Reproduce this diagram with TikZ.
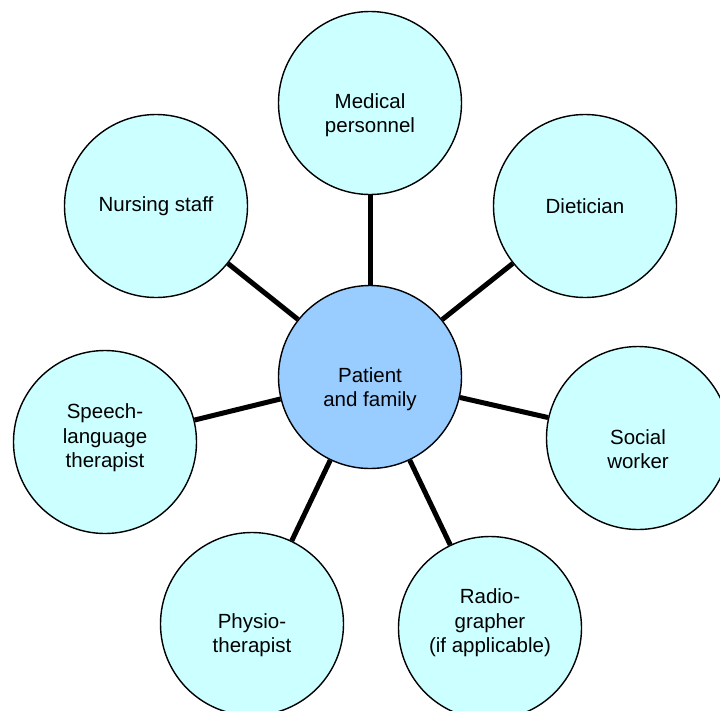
\documentclass[tikz,border=0pt]{standalone}
\usepackage{fontspec}
\setmainfont{Liberation Sans}
\begin{document}
\begin{tikzpicture}[x=1pt,y=-1pt,
  member/.style={circle,draw=black,line width=1.4pt,fill=memberfill,
    minimum size=183pt,inner sep=0pt},
  hub/.style={member,fill=hubfill},
  caption/.style={align=center,inner sep=0pt,
    font=\fontsize{20.5}{24.5}\selectfont},
  link/.style={line width=5pt,draw=black}]
\definecolor{memberfill}{HTML}{CCFFFF}
\definecolor{hubfill}{HTML}{99CCFF}
\useasboundingbox (0,0) rectangle (720,710);
\clip (0,0) rectangle (720,710);
% outer team members
\node[member] (med) at (370,103) {};
\node[member] (diet) at (585,206) {};
\node[member] (soc) at (638,438) {};
\node[member] (rad) at (490,628) {};
\node[member] (phys) at (252,624) {};
\node[member] (slt) at (105,442) {};
\node[member] (nurse) at (156,206) {};
% centre
\node[hub] (pat) at (370,377) {};
% spokes
\foreach \n in {med,diet,soc,rad,phys,slt,nurse}
  \draw[link] (pat) -- (\n);
% labels
\node[caption] (tmed) at ([yshift=-12pt]med.center) {Medical\\personnel};
\node[caption] (tdiet) at (diet.center) {Dietician};
\node[caption] (tsoc) at ([yshift=-11pt]soc.center) {Social\\worker};
\node[caption] (trad) at ([yshift=5pt]rad.center) {Radio-\\grapher\\(if applicable)};
\node[caption] (tphys) at ([yshift=-11pt]phys.center) {Physio-\\therapist};
\node[caption] (tslt) at ([yshift=4pt]slt.center) {Speech-\\language\\therapist};
\node[caption] (tnurse) at (nurse.center) {Nursing staff};
\node[caption] (tpat) at ([yshift=-12pt]pat.center) {Patient\\and family};
\end{tikzpicture}
\end{document}
